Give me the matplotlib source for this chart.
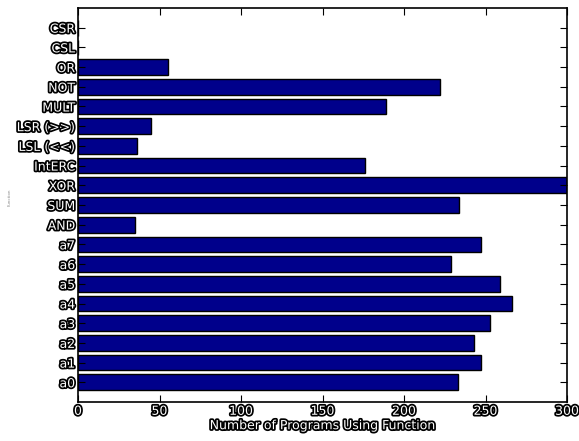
import matplotlib
matplotlib.use("Agg")
import matplotlib.pyplot as plt
import matplotlib.patheffects as pe

functions = ["a0", "a1", "a2", "a3", "a4", "a5", "a6", "a7", "AND", "SUM", "XOR",
             "IntERC", "LSL (<<)", "LSR (>>)", "MULT", "NOT", "OR", "CSL", "CSR"]
counts = [233, 247, 243, 253, 266, 259, 229, 247, 35, 234, 300,
          176, 36, 45, 189, 222, 55, 0, 0]

outline = [pe.withStroke(linewidth=2.5, foreground="black")]

fig = plt.figure(figsize=(5.79, 4.41), dpi=100)
ax = fig.add_axes([78/579, 1 - 402/441, (567-78)/579, (402-8)/441])

pos = range(len(functions))
ax.barh(pos, counts, height=0.8, align="center", color="#00008B", edgecolor="black", linewidth=1)

ax.set_xlim(0, 300)
ax.set_ylim(-1, 19)
ax.set_yticks(list(pos))
ax.set_yticklabels(functions)
ax.set_xticks([0, 50, 100, 150, 200, 250, 300])
ax.tick_params(direction="in", top=True, right=True, length=5, pad=2)
for lab in ax.get_yticklabels() + ax.get_xticklabels():
    lab.set_color("white")
    lab.set_fontsize(9)
    lab.set_path_effects(outline)

ax.set_xlabel("Number of Programs Using Function", fontsize=9, color="white",
              path_effects=outline, labelpad=1)
ax.set_ylabel("Function", fontsize=3, color="#888888")
ax.yaxis.set_label_coords(-66/489, 0.52)
for s in ax.spines.values():
    s.set_linewidth(1.2)

fig.savefig("out.png", dpi=100)
